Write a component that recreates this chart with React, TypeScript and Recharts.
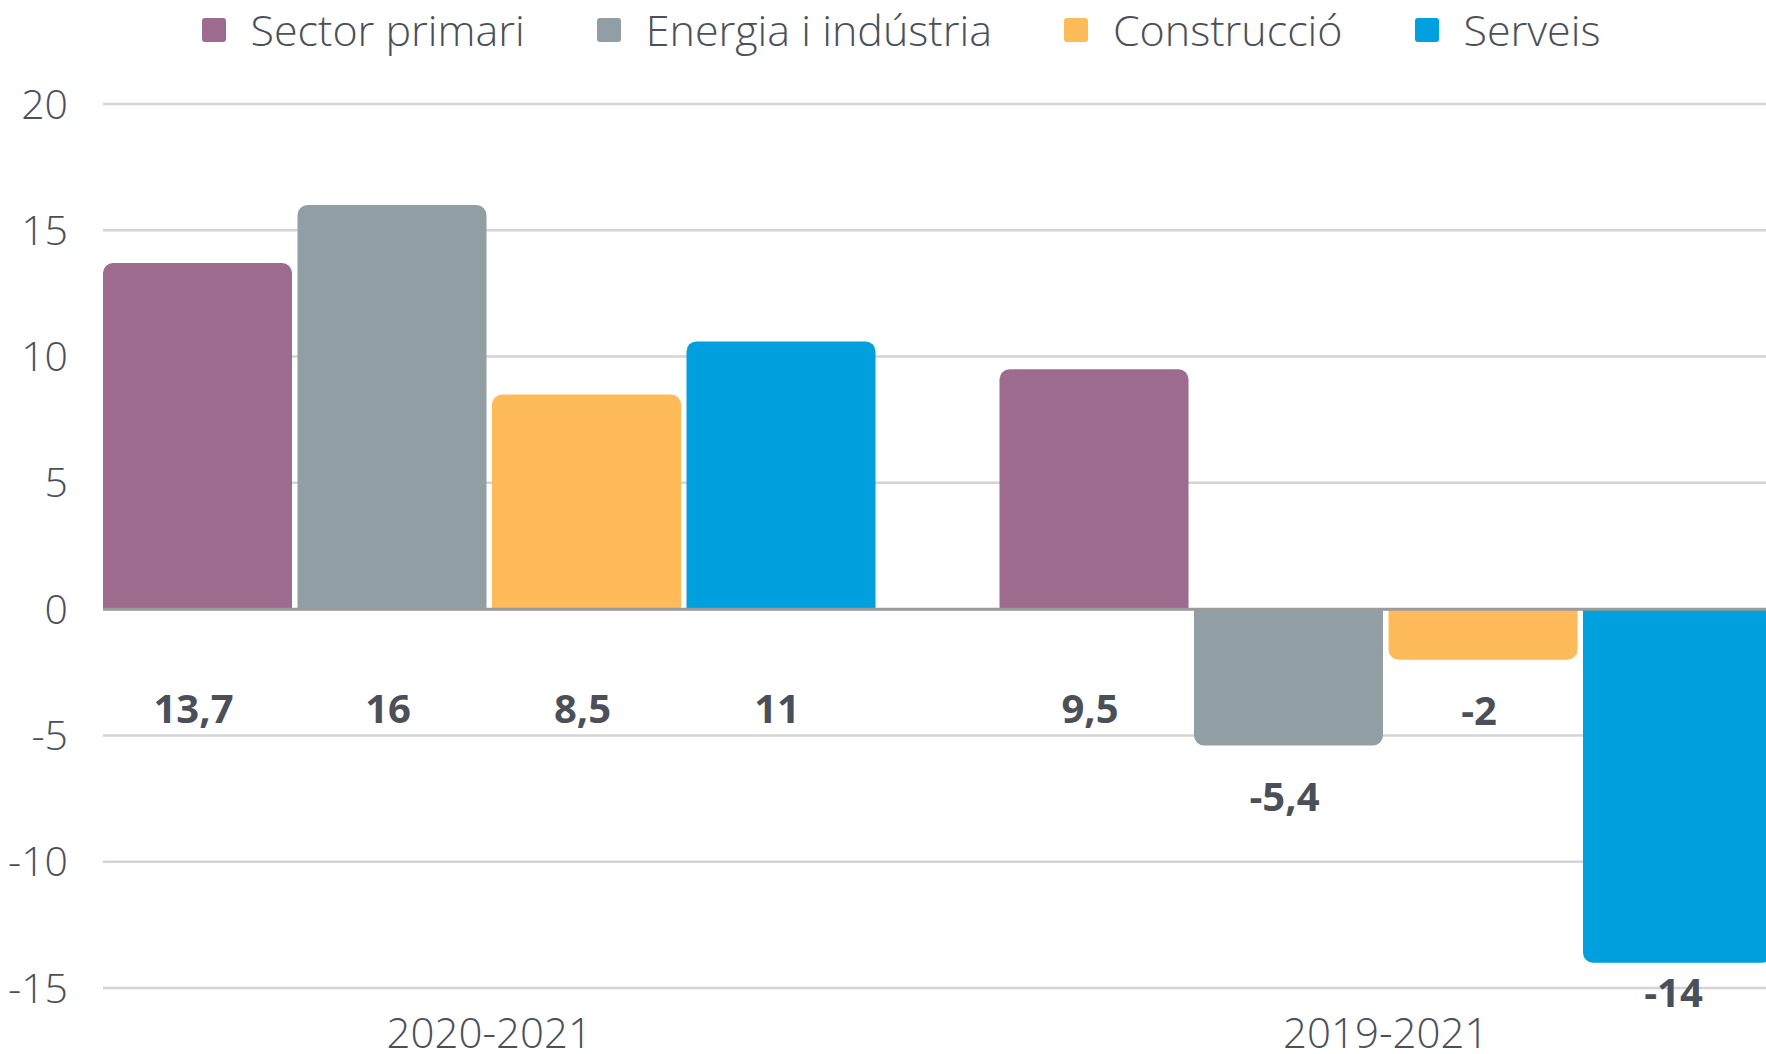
import React from "react";
import {
  BarChart,
  Bar,
  XAxis,
  YAxis,
  CartesianGrid,
  Legend,
  LabelList,
  ReferenceLine,
} from "recharts";

// ---- Data ----
const categories = ["2020-2021", "2019-2021"];
const sectorPrimari = [13.7, 9.5];
const energiaIndustria = [16, -5.4];
const construccio = [8.5, -2];
const serveis = [10.6, -14];
// data labels as printed on the chart
const sectorPrimariLabels = ["13,7", "9,5"];
const energiaIndustriaLabels = ["16", "-5,4"];
const construccioLabels = ["8,5", "-2"];
const serveisLabels = ["11", "-14"];
const yTicks = [-15, -10, -5, 0, 5, 10, 15, 20];

const seriesNames = ["Sector primari", "Energia i indústria", "Construcció", "Serveis"];
const seriesKeys = ["primari", "energia", "construccio", "serveis"];
const seriesColors = ["#9c6b8e", "#919ea4", "#ffbb5a", "#009fdd"];
const seriesLabels = [sectorPrimariLabels, energiaIndustriaLabels, construccioLabels, serveisLabels];

const data = categories.map((c, i) => ({
  name: c,
  primari: sectorPrimari[i],
  energia: energiaIndustria[i],
  construccio: construccio[i],
  serveis: serveis[i],
}));

// ---- Layout / style ----
const W = 1766;
const H = 1054;
const X_AXIS_H = 66;
const PLOT_BOTTOM = H - X_AXIS_H;
const TEXT = "#4b5058";
const FONT = "'Open Sans', 'Noto Sans', sans-serif";

const makeLabel = (labels: string[]) => (props: any) => {
  const { x, y, width, height, index, value } = props;
  const bottom = Math.max(y, y + height);
  let cy: number;
  if (value >= 0) {
    cy = bottom + 98;
  } else {
    cy = Math.min(bottom + 50, PLOT_BOTTOM + 3);
  }
  return (
    <text
      x={x + width / 2 - 4}
      y={cy}
      textAnchor="middle"
      dominantBaseline="central"
      fill={TEXT}
      fontFamily={FONT}
      fontWeight={700}
      fontSize={40}
    >
      {labels[index]}
    </text>
  );
};

const renderLegend = () => (
  <div
    style={{
      display: "flex",
      justifyContent: "center",
      alignItems: "center",
      gap: 72,
      paddingLeft: 36,
      height: 60,
      boxSizing: "border-box",
    }}
  >
    {seriesNames.map((n, i) => (
      <div key={n} style={{ display: "flex", alignItems: "center" }}>
        <div
          style={{
            width: 24,
            height: 24,
            borderRadius: 3,
            background: seriesColors[i],
            marginRight: 25,
          }}
        />
        <span
          style={{
            fontFamily: FONT,
            fontWeight: 300,
            fontSize: 43,
            color: TEXT,
            lineHeight: "60px",
          }}
        >
          {n}
        </span>
      </div>
    ))}
  </div>
);

export default function App() {
  return (
    <div style={{ position: "absolute", left: 0, top: 0, width: W, height: H, background: "#fff" }}>
      <BarChart
        width={W}
        height={H}
        data={data}
        margin={{ top: 44, right: 0, left: 0, bottom: 0 }}
        barCategoryGap={62}
        barGap={5.5}
      >
        <CartesianGrid vertical={false} stroke="#d4d4d8" strokeWidth={2.5} />
        <Legend
          verticalAlign="top"
          align="center"
          content={renderLegend}
          wrapperStyle={{ top: 0, left: 0, width: W, height: 60 }}
        />
        <XAxis
          dataKey="name"
          height={X_AXIS_H}
          axisLine={false}
          tickLine={false}
          tickMargin={24}
          padding={{ left: -62, right: -68 }}
          tick={{ fill: TEXT, fontSize: 42, fontFamily: FONT, fontWeight: 300 }}
        />
        <YAxis
          width={103}
          domain={[-15, 20]}
          ticks={yTicks}
          interval={0}
          axisLine={false}
          tickLine={false}
          tickMargin={29}
          tick={{ fill: TEXT, fontSize: 41, fontFamily: FONT, fontWeight: 300 }}
        />
        {seriesKeys.map((k, i) => (
          <Bar
            key={k}
            dataKey={k}
            name={seriesNames[i]}
            fill={seriesColors[i]}
            radius={[10, 10, 0, 0]}
            isAnimationActive={false}
          >
            <LabelList dataKey={k} content={makeLabel(seriesLabels[i])} />
          </Bar>
        ))}
        <ReferenceLine y={0} stroke="#9b9b9b" strokeWidth={3} />
      </BarChart>
    </div>
  );
}
